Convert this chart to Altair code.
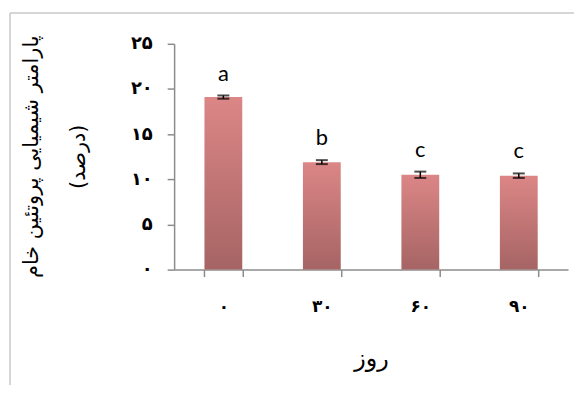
import altair as alt
import pandas as pd

days = ["۰", "۳۰", "۶۰", "۹۰"]
values = [19.1, 11.9, 10.5, 10.4]
errors = [0.18, 0.22, 0.35, 0.25]
letters = ["a", "b", "c", "c"]

df = pd.DataFrame({"day": days, "value": values, "err": errors, "letter": letters})
frame = pd.DataFrame({"k": [0]})

W, H = 396, 227

persian = ("replace(replace(replace(replace(replace(replace(datum.label,"
           "'0','۰'),'1','۱'),'2','۲'),'5','۵'),'3','۳'),'4','۴')")

xenc = alt.X("day:N", sort=days,
             scale=alt.Scale(paddingInner=0.616, paddingOuter=0.308),
             axis=alt.Axis(title="روز", labelAngle=0, tickBand="extent",
                           labelFontSize=17, labelFont="DejaVu Sans", labelFontWeight="bold",
                           labelPadding=22, tickSize=7, titleFontSize=24,
                           titleFont="DejaVu Sans", titleFontWeight="normal",
                           titlePadding=32, domainColor="#8c8c8c", tickColor="#8c8c8c",
                           domainWidth=1.5, tickWidth=1.5, labelColor="black"))
yscale = alt.Scale(domain=[0, 25], nice=False)

base = alt.Chart(df).transform_calculate(
    lo="datum.value - datum.err", hi="datum.value + datum.err")

bars = base.mark_bar(
    color=alt.Gradient(gradient="linear",
                       stops=[alt.GradientStop(color="#dc8686", offset=0),
                              alt.GradientStop(color="#a66464", offset=1)],
                       x1=1, x2=1, y1=0, y2=1)
).encode(
    x=xenc,
    y=alt.Y("value:Q", scale=yscale,
            axis=alt.Axis(values=[0, 5, 10, 15, 20, 25], format="d", labelExpr=persian,
                          grid=False, tickSize=7, labelPadding=15, labelFontSize=18,
                          labelFont="DejaVu Sans", labelFontWeight="bold", labelColor="black",
                          title=["پارامتر شیمیایی پروتئین خام", "(درصد)"],
                          titleFont="DejaVu Sans", titleFontSize=21, titleFontWeight="normal",
                          titleLineHeight=47, titleBaseline="middle", titleX=-143, titleY=113,
                          titleAngle=270,
                          domainColor="#8c8c8c", tickColor="#8c8c8c",
                          domainWidth=1.5, tickWidth=1.5)),
)

rules = base.mark_rule(color="black", strokeWidth=1.5).encode(
    x=alt.X("day:N", sort=days), y=alt.Y("lo:Q", scale=yscale), y2="hi:Q")
caps_lo = base.mark_tick(color="black", size=12, thickness=2, orient="horizontal").encode(
    x=alt.X("day:N", sort=days), y=alt.Y("lo:Q", scale=yscale))
caps_hi = base.mark_tick(color="black", size=12, thickness=2, orient="horizontal").encode(
    x=alt.X("day:N", sort=days), y=alt.Y("hi:Q", scale=yscale))

labels = base.mark_text(fontSize=22, font="Lato", baseline="middle", dy=-22, color="black").encode(
    x=alt.X("day:N", sort=days), y=alt.Y("hi:Q", scale=yscale), text="letter:N")

border_v = alt.Chart(frame).mark_rule(color="#c8c8c8", strokeWidth=1.5).encode(
    x=alt.value(-165), y=alt.value(-31), y2=alt.value(360))
border_h = alt.Chart(frame).mark_rule(color="#c8c8c8", strokeWidth=1.5).encode(
    x=alt.value(-165), x2=alt.value(420), y=alt.value(-31))

chart = alt.layer(border_v, border_h, bars, rules, caps_lo, caps_hi, labels).properties(
    width=W, height=H,
    autosize=alt.AutoSizeParams(type="none"),
    padding={"left": 167, "top": 35, "right": 6, "bottom": 115},
).configure_view(stroke=None)

chart.save("out.html", embed_options={"renderer": "svg", "actions": False})
